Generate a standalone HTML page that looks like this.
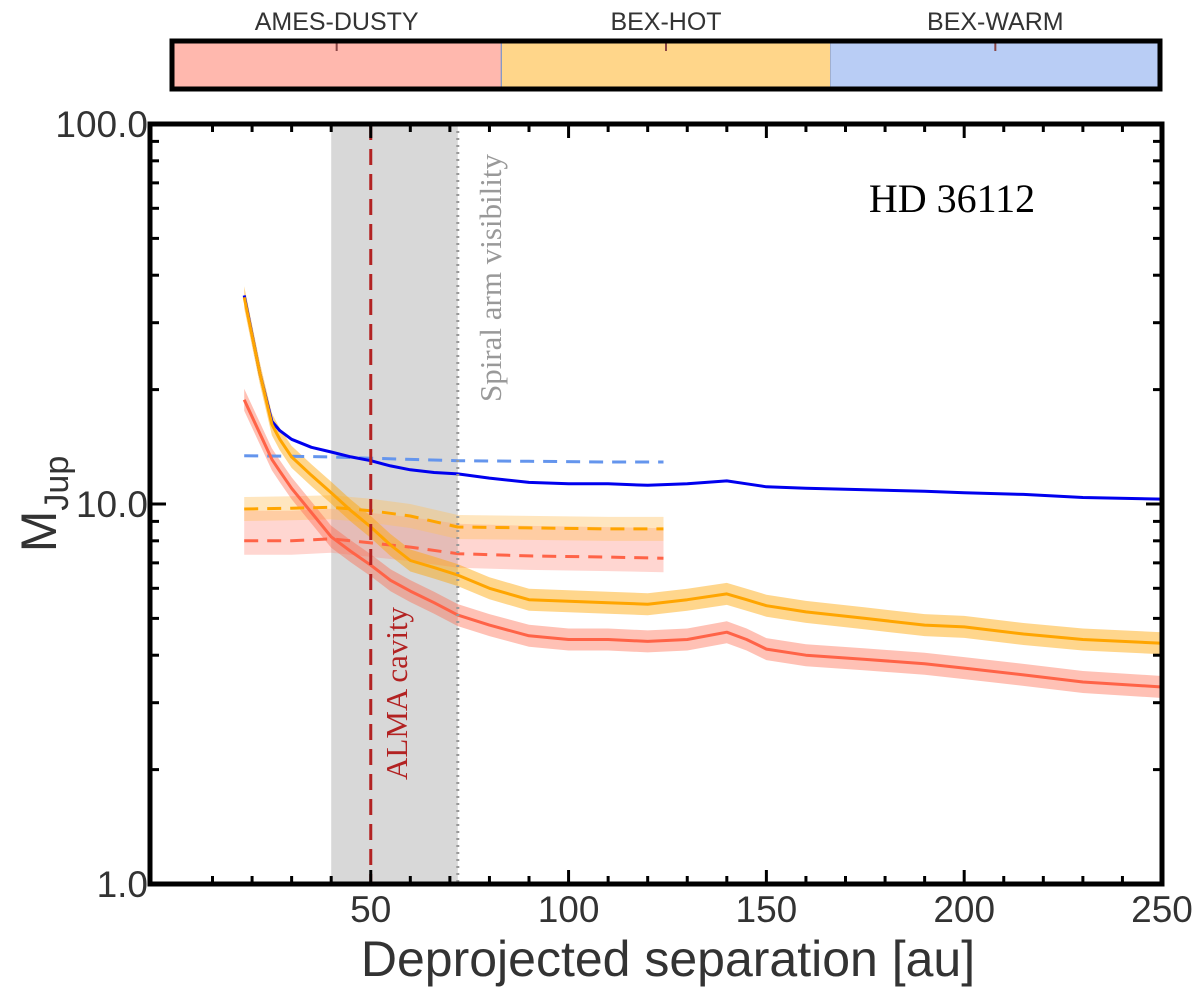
<!DOCTYPE html>
<html><head><meta charset="utf-8"><style>
body{margin:0;background:#fff;}
svg{display:block;font-family:"Liberation Sans",sans-serif;}
</style></head><body>
<svg id="chart" width="1200" height="994">
<g id="cbar"></g>
<g id="plot"></g>
</svg>
<script>
const NS="http://www.w3.org/2000/svg";
const xs=[18,22,25,27,30,35,40,45,50,55,60,66,72,80,90,100,110,120,130,140,145,150,160,175,190,200,215,230,250];
const blueSolid=[35.4,22,16.5,15.6,14.8,14.1,13.7,13.3,13.0,12.6,12.3,12.1,12.0,11.7,11.4,11.3,11.3,11.2,11.3,11.5,11.3,11.1,11.0,10.9,10.8,10.7,10.6,10.4,10.3];
const orangeSolid=[35,22,16.2,14.8,13.3,11.9,10.7,9.6,8.7,7.8,7.1,6.8,6.5,6.0,5.6,5.55,5.5,5.45,5.6,5.8,5.6,5.4,5.2,5.0,4.8,4.75,4.55,4.4,4.3];
const redSolid=[18.8,15.3,13.1,12.2,11.0,9.5,8.2,7.5,6.9,6.3,5.9,5.5,5.1,4.8,4.5,4.4,4.4,4.35,4.4,4.6,4.4,4.15,4.0,3.9,3.8,3.7,3.55,3.4,3.3];
const xd=[18,30,40,50,60,72,90,110,124];
const blueDash=[13.4,13.35,13.3,13.2,13.1,13.0,12.95,12.9,12.9];
const orangeDash=[9.7,9.75,9.8,9.6,9.3,8.7,8.65,8.6,8.6];
const redDash=[8.0,8.0,8.1,7.9,7.7,7.4,7.3,7.25,7.2];
const xTicks=[50,100,150,200,250];
const yTicks=[1,10,100];
const yTickLabels=["1.0","10.0","100.0"];
const cbarLabels=["AMES-DUSTY","BEX-HOT","BEX-WARM"];
const cbarColors=["#ffb8ae","#ffd68a","#b9cdf5"];
const L=150,R=1162,T=124,B=884,X0=-5.8,X1=250;
const X=v=>L+(v-X0)/(X1-X0)*(R-L);
const Y=v=>B-(Math.log10(v))/2*(B-T);
function el(t,a,p){const e=document.createElementNS(NS,t);for(const k in a)e.setAttribute(k,a[k]);p.appendChild(e);return e;}
const plot=document.getElementById('plot'),cb=document.getElementById('cbar');
const CL=172,CR=1160,cw=(CR-CL)/3;
cbarColors.forEach((c,i)=>{
 const r=el('rect',{x:CL+i*cw,y:41,width:cw,height:48,fill:c,stroke:i<2?'#6f8fd0':'none','stroke-width':1},cb);
 
 
 const t=el('text',{x:CL+i*cw+cw/2,y:30,'text-anchor':'middle','font-size':25,fill:'#333'},cb);t.textContent=cbarLabels[i];
 
 
 el('line',{x1:CL+i*cw+cw/2,x2:CL+i*cw+cw/2,y1:42,y2:51,stroke:'#844',"stroke-width":2},cb);
});
el('rect',{x:CL,y:41,width:CR-CL,height:48,fill:'none',stroke:'#000','stroke-width':5},cb);
el('rect',{x:X(40),y:T,width:X(72)-X(40),height:B-T,fill:'#d8d8d8'},plot);
function line(xa,ya,col,w,dash){let d=xa.map((x,i)=>(i?'L':'M')+X(x).toFixed(1)+','+Y(ya[i]).toFixed(1)).join('');return el('path',{d,fill:'none',stroke:col,'stroke-width':w,'stroke-dasharray':dash||'none','stroke-linejoin':'round'},plot);}
function band(xa,ya,lo,hi,col,op){let top=xa.map((x,i)=>X(x).toFixed(1)+','+(Y(ya[i])-hi).toFixed(1));let bot=xa.map((x,i)=>X(x).toFixed(1)+','+(Y(ya[i])+lo).toFixed(1)).reverse();return el('polygon',{points:top.concat(bot).join(' '),fill:col,opacity:op},plot);}
let b;
b=band(xd,redDash,14,30,'#ff8a7a',0.35);
b=band(xd,orangeDash,12,12,'#ffc060',0.4);
b=band(xs,redSolid,11,11,'#ff6347',0.4);
b=band(xs,orangeSolid,11,11,'#ffa500',0.45);
let l;
l=line(xd,redDash,'#ff6347',3,'14,9');
l=line(xd,orangeDash,'#ffa500',3,'14,9');
l=line(xd,blueDash,'#6495ed',3,'14,9');
l=line(xs,redSolid,'#ff6347',3);
l=line(xs,blueSolid,'#0000ee',3);
l=line(xs,orangeSolid,'#ffa500',3);
el('line',{x1:X(50),x2:X(50),y1:T,y2:B,stroke:'#b22222','stroke-width':3,'stroke-dasharray':'16,9'},plot);
el('line',{x1:X(72),x2:X(72),y1:T,y2:B,stroke:'#999','stroke-width':3,'stroke-dasharray':'2,5'},plot);
let t=el('text',{x:0,y:0,transform:`translate(${X(50)+36},780) rotate(-90)`,'font-family':'Liberation Serif,serif','font-size':31,fill:'#b22222'},plot);t.textContent='ALMA cavity';

t=el('text',{x:0,y:0,transform:`translate(${X(72)+43},402) rotate(-90)`,'font-family':'Liberation Serif,serif','font-size':31,fill:'#999'},plot);t.textContent='Spiral arm visibility';

t=el('text',{x:952,y:212,'text-anchor':'middle','font-family':'Liberation Serif,serif','font-size':40,fill:'#000'},plot);t.textContent='HD 36112';

for(let v=10;v<250;v+=10){const x=X(v);const maj=v%50==0;const len=maj?14:8;
 el('line',{x1:x,x2:x,y1:B,y2:B-len,stroke:'#000','stroke-width':3},plot);
 el('line',{x1:x,x2:x,y1:T,y2:T+len,stroke:'#000','stroke-width':3},plot);}
xTicks.forEach(v=>{const t=el('text',{x:X(v),y:B+38,'text-anchor':'middle','font-size':37,fill:'#333'},plot);t.textContent=v;
 });
for(let d=1;d<=10;d*=10)for(let m=1;m<10;m++){const y=Y(d*m);const len=m==1?16:9;
 el('line',{x1:L,x2:L+len,y1:y,y2:y,stroke:'#000','stroke-width':3},plot);
 el('line',{x1:R,x2:R-len,y1:y,y2:y,stroke:'#000','stroke-width':3},plot);}
yTicks.forEach((v,i)=>{const t=el('text',{x:L-2,y:Y(v)+13,'text-anchor':'end','font-size':37,fill:'#333'},plot);t.textContent=yTickLabels[i];
 });
el('rect',{x:L,y:T,width:R-L,height:B-T,fill:'none',stroke:'#000','stroke-width':5},plot);
t=el('text',{x:668,y:976,'text-anchor':'middle','font-size':50,fill:'#333'},plot);t.textContent='Deprojected separation [au]';

t=el('text',{x:0,y:0,transform:'translate(56,504) rotate(-90)','text-anchor':'middle','font-size':50,fill:'#333'},plot);
t.innerHTML='M<tspan font-size="34" dy="12">Jup</tspan>';

</script>
</body></html>
